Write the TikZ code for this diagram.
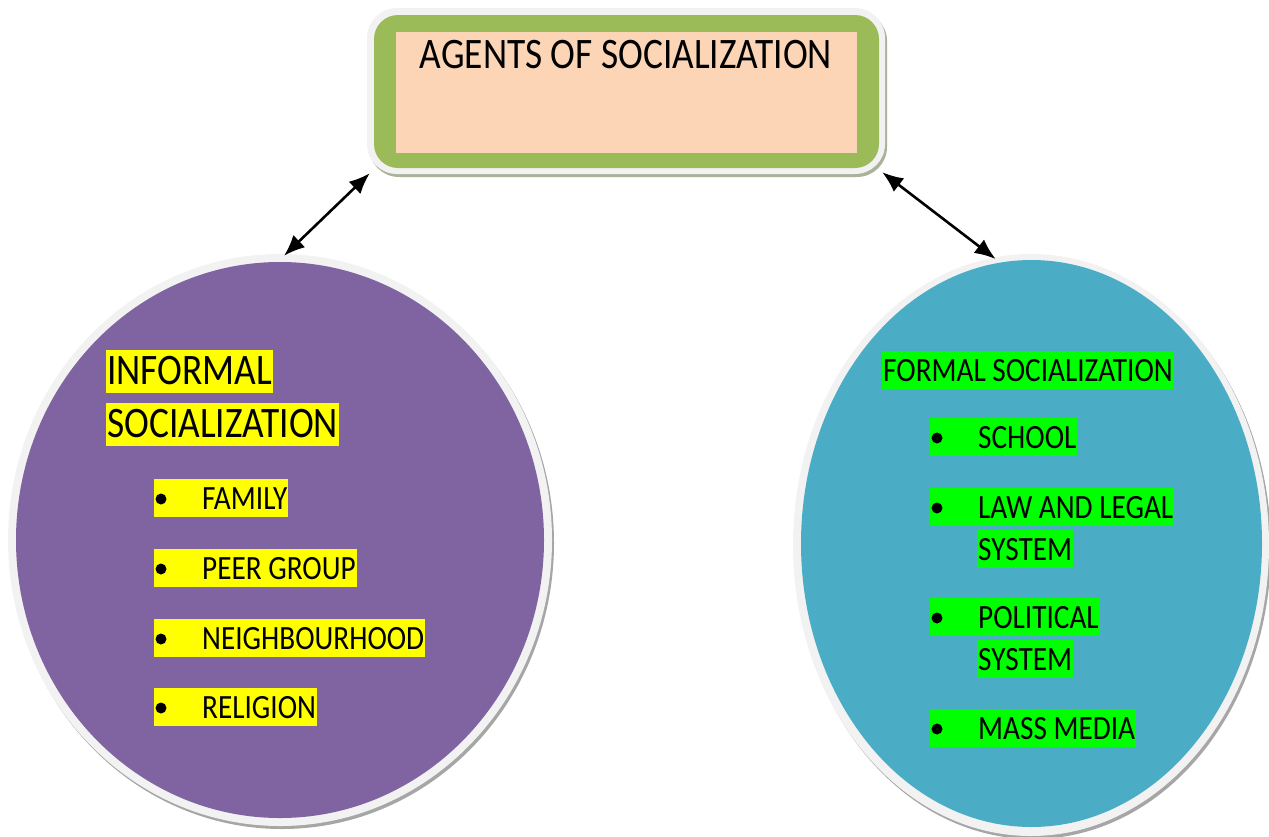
\documentclass[tikz,border=0pt]{standalone}
\usepackage{fontspec}
\setmainfont[FakeStretch=0.86]{Carlito}
\usetikzlibrary{shapes.geometric,shadows,arrows.meta}
\definecolor{purp}{HTML}{8064A2}
\definecolor{teal2}{HTML}{4BACC6}
\definecolor{olive2}{HTML}{9BBB59}
\definecolor{peach}{HTML}{FBD5B5}
\definecolor{ring}{HTML}{F2F2F2}
\definecolor{hlyellow}{HTML}{FFFF00}
\definecolor{hlgreen}{HTML}{00FF00}
\definecolor{shgray}{HTML}{A6A6A6}
\definecolor{shgreen}{HTML}{A9B39A}
\begin{document}
\begin{tikzpicture}[x=1pt,y=-1pt,
  hl/.style={anchor=base west, inner xsep=1pt, inner ysep=0pt, text height=30pt, text depth=8pt, font=\fontsize{34}{40}\selectfont},
  yl/.style={hl, fill=hlyellow},
  gr/.style={hl, fill=hlgreen},
  bigyl/.style={anchor=base west, inner xsep=1pt, inner ysep=0pt, text height=34pt, text depth=9pt, fill=hlyellow, font=\fontsize{43.5}{50}\selectfont},
  ringell/.style={ellipse, fill=ring, inner sep=0pt, drop shadow={shadow xshift=2pt, shadow yshift=-3pt, fill=shgray, opacity=1}},
  fillell/.style={ellipse, inner sep=0pt},
  arr/.style={line width=2.6pt, black, {Latex[length=21pt,width=17pt]}-{Latex[length=21pt,width=17pt]}},
  dotb/.style={fill=black}
]
\useasboundingbox (0,0) rectangle (1269,836);
% title box
\node[rectangle, rounded corners=30pt, fill=ring, minimum width=518pt, minimum height=166pt, inner sep=0pt,
  drop shadow={shadow xshift=2pt, shadow yshift=-3pt, fill=shgreen, opacity=1}] (tout) at (626,91) {};
\node[rectangle, rounded corners=24pt, fill=olive2, minimum width=505pt, minimum height=153pt, inner sep=0pt] (tgreen) at (626.5,91.5) {};
\node[rectangle, fill=peach, minimum width=461pt, minimum height=121pt, inner sep=0pt] (tpeach) at (626.5,92.5) {};
\node[anchor=base, inner sep=0pt, font=\fontsize{43.5}{50}\selectfont] (ttl) at (626,68) {AGENTS OF SOCIALIZATION};
% left ellipse
\node[ringell, minimum width=544pt, minimum height=572pt] (lc) at (280,540) {};
\node[fillell, fill=purp, minimum width=528pt, minimum height=556pt] (lcin) at (280,540) {};
% right ellipse
\node[ringell, minimum width=476pt, minimum height=582pt] (rc) at (1031,545) {};
\node[fillell, fill=teal2, minimum width=461pt, minimum height=567pt] (rcin) at (1031.5,543.5) {};
% arrows
\draw[arr] ([shift={(3,-1)}]tout.south west) -- ([shift={(4,2)}]lc.north);
\draw[arr] ([shift={(-3,-2)}]tout.south east) -- ([shift={(0,2)}]rc.97);
% left texts
\node[bigyl] (inf1) at (106,384) {INFORMAL};
\node[bigyl] (inf2) at (106,437) {SOCIALIZATION};
\node[yl] (l1) at (154,509) {\hspace*{47pt}FAMILY};
\node[yl] (l2) at (154,579) {\hspace*{47pt}PEER GROUP};
\node[yl] (l3) at (154,649) {\hspace*{47pt}NEIGHBOURHOOD};
\node[yl] (l4) at (154,718) {\hspace*{47pt}RELIGION};
\foreach \n in {l1,l2,l3,l4} \fill[dotb] ([shift={(7,-10)}]\n.base west) circle (5.5);
% right texts
\node[gr] (fs) at (882,381) {FORMAL SOCIALIZATION};
\node[gr] (r1) at (930,448) {\hspace*{47pt}SCHOOL};
\node[gr] (r2) at (930,518) {\hspace*{47pt}LAW AND LEGAL};
\node[gr] (r2b) at (977,560) {SYSTEM};
\node[gr] (r3) at (930,628) {\hspace*{47pt}POLITICAL};
\node[gr] (r3b) at (977,670) {SYSTEM};
\node[gr] (r4) at (930,739) {\hspace*{47pt}MASS MEDIA};
\foreach \n in {r1,r2,r3,r4} \fill[dotb] ([shift={(7,-10)}]\n.base west) circle (5.5);
\end{tikzpicture}
\end{document}
